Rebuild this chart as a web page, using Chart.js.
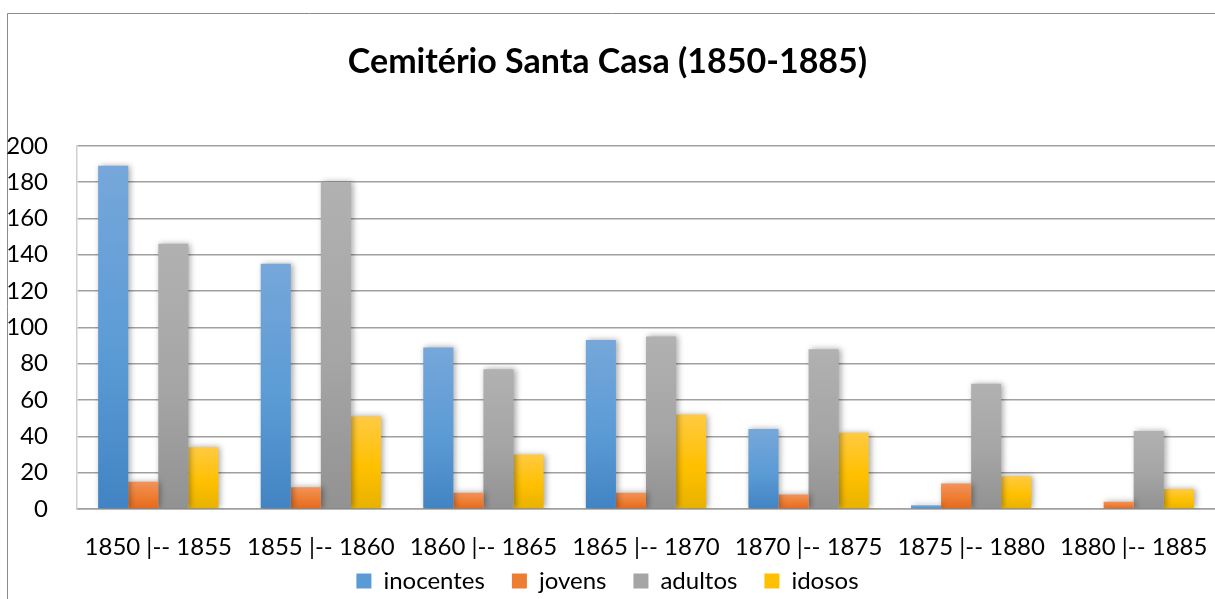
<!DOCTYPE html>
<html>
<head>
<meta charset="utf-8">
<title>Cemitério Santa Casa (1850-1885)</title>
<script src="https://cdn.jsdelivr.net/npm/chart.js@4.4.1/dist/chart.umd.min.js"></script>
<style>
  html, body { margin: 0; padding: 0; background: #fff; }
  #wrap { position: relative; width: 1215px; height: 599px; }
</style>
</head>
<body>
<div id="wrap"><canvas id="chart" width="1215" height="599"></canvas></div>
<script>
// Cemitério Santa Casa - sepultamentos por faixa etária

const categories = [
  "1850 |-- 1855", "1855 |-- 1860", "1860 |-- 1865", "1865 |-- 1870",
  "1870 |-- 1875", "1875 |-- 1880", "1880 |-- 1885"
];
const inocentes = [189, 135, 89, 93, 44, 2, 0];
const jovens = [15, 12, 9, 9, 8, 14, 4];
const adultos = [146, 180, 77, 95, 88, 69, 43];
const idosos = [34, 51, 30, 52, 42, 18, 11];

const yMin = 0;
const yMax = 200;
const yStep = 20;

const FONT = "Lato, 'Open Sans', sans-serif";

// top / middle / bottom colour of each bar's gradient
const shades = {
  inocentes: ["#76a7da", "#5b9bd5", "#4283c3"],
  jovens: ["#f2925a", "#ed7d31", "#e2691f"],
  adultos: ["#b1b1b1", "#a5a5a5", "#929292"],
  idosos: ["#ffca42", "#ffc000", "#e8b200"]
};

function barFill(stops) {
  return function (c) {
    const chart = c.chart;
    const y = chart.scales && chart.scales.y;
    if (c.type !== "data" || !y || !chart.chartArea) return stops[1];
    const top = y.getPixelForValue(c.raw);
    const base = y.getPixelForValue(0);
    if (!isFinite(top) || !isFinite(base) || base - top < 1) return stops[1];
    const g = chart.ctx.createLinearGradient(0, top, 0, base);
    g.addColorStop(0, stops[0]);
    g.addColorStop(0.55, stops[1]);
    g.addColorStop(1, stops[2]);
    return g;
  };
}

function series(label, data, stops) {
  return {
    label: label,
    data: data,
    backgroundColor: barFill(stops),
    legendColor: stops[1],
    borderWidth: 0,
    categoryPercentage: 0.74,
    barPercentage: 1.0
  };
}

// soft shadow behind the bars, like the spreadsheet original
const barShadow = {
  id: "barShadow",
  beforeDatasetsDraw(chart) {
    const ctx = chart.ctx;
    ctx.save();
    ctx.shadowColor = "rgba(0,0,0,0.35)";
    ctx.shadowBlur = 6;
    ctx.shadowOffsetX = 2;
    ctx.shadowOffsetY = 0;
  },
  afterDatasetsDraw(chart) {
    chart.ctx.restore();
  }
};

// outer frame of the chart object (only top and left edges are visible)
const frame = {
  id: "frame",
  beforeDraw(chart) {
    const ctx = chart.ctx;
    ctx.save();
    ctx.fillStyle = "#fff";
    ctx.fillRect(0, 0, chart.width, chart.height);
    ctx.strokeStyle = "#8c8c8c";
    ctx.lineWidth = 1;
    ctx.beginPath();
    ctx.moveTo(7.5, chart.height + 2);
    ctx.lineTo(7.5, 13.5);
    ctx.lineTo(chart.width + 2, 13.5);
    ctx.stroke();
    ctx.restore();
  }
};

// the x axis is kept short so the legend sits close under it;
// widen its box afterwards so the tick labels are not clipped
const labelRoom = {
  id: "labelRoom",
  afterLayout(chart) {
    const x = chart.scales.x;
    x.bottom = chart.height;
    x.height = x.bottom - x.top;
  }
};

const ctx = document.getElementById("chart").getContext("2d");

new Chart(ctx, {
  type: "bar",
  data: {
    labels: categories,
    datasets: [
      series("inocentes", inocentes, shades.inocentes),
      series("jovens", jovens, shades.jovens),
      series("adultos", adultos, shades.adultos),
      series("idosos", idosos, shades.idosos)
    ]
  },
  options: {
    responsive: false,
    animation: false,
    layout: {
      padding: { left: 0, right: 0, top: 0, bottom: -4 }
    },
    plugins: {
      title: {
        display: true,
        text: "Cemitério Santa Casa (1850-1885)",
        color: "#000",
        font: { family: FONT, size: 34, weight: "bold" },
        padding: { top: 42, bottom: 63 }
      },
      legend: {
        position: "bottom",
        labels: {
          color: "#000",
          font: { family: FONT, size: 24 },
          boxWidth: 15,
          boxHeight: 15,
          padding: 27,
          generateLabels(chart) {
            return chart.data.datasets.map((ds, i) => ({
              text: ds.label,
              fillStyle: ds.legendColor,
              strokeStyle: ds.legendColor,
              lineWidth: 0,
              hidden: !chart.isDatasetVisible(i),
              datasetIndex: i,
              fontColor: "#000"
            }));
          }
        }
      },
      tooltip: { enabled: false }
    },
    scales: {
      x: {
        grid: { display: false, drawTicks: true, tickLength: 24 },
        border: { display: true, color: "#a0a0a0", width: 1.5 },
        ticks: {
          color: "#000",
          font: { family: FONT, size: 24 },
          padding: 0,
          maxRotation: 0,
          autoSkip: false
        },
        afterFit(scale) { scale.height = 33; }
      },
      y: {
        min: yMin,
        max: yMax,
        grid: { color: "#a0a0a0", lineWidth: 1.5, drawTicks: false },
        border: { display: true, color: "#cfcfcf", width: 1.5 },
        ticks: {
          stepSize: yStep,
          color: "#000",
          font: { family: FONT, size: 24 },
          padding: 29
        },
        afterFit(scale) { scale.width = 77; }
      }
    }
  },
  plugins: [frame, barShadow, labelRoom]
});
</script>
</body>
</html>
